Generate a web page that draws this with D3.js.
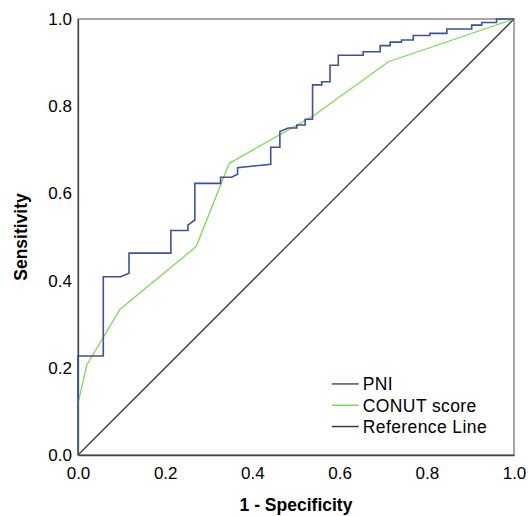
<!DOCTYPE html>
<html>
<head>
<meta charset="utf-8">
<script src="https://cdn.jsdelivr.net/npm/d3@7"></script>
<style>
  body { margin: 0; background: #fff; }
  text { font-family: "Liberation Sans", Arial, sans-serif; }
</style>
</head>
<body>
<div class="container"></div>
<script>
// ROC 曲线数据 (1 - Specificity, Sensitivity)
var pniFpr = [0, 0, 0.058, 0.058, 0.098, 0.117, 0.117, 0.213, 0.213, 0.252, 0.252, 0.268, 0.268, 0.327, 0.327, 0.352, 0.366, 0.366, 0.442, 0.442, 0.463, 0.463, 0.482, 0.502, 0.502, 0.521, 0.521, 0.538, 0.538, 0.559, 0.559, 0.578, 0.578, 0.597, 0.597, 0.654, 0.654, 0.693, 0.693, 0.716, 0.716, 0.742, 0.742, 0.769, 0.769, 0.807, 0.807, 0.846, 0.846, 0.903, 0.903, 0.926, 0.926, 0.960, 0.960, 1];
var pniTpr = [0, 0.227, 0.227, 0.409, 0.409, 0.417, 0.463, 0.463, 0.515, 0.515, 0.527, 0.539, 0.623, 0.623, 0.637, 0.637, 0.644, 0.659, 0.667, 0.706, 0.706, 0.742, 0.750, 0.750, 0.757, 0.757, 0.770, 0.770, 0.849, 0.849, 0.856, 0.856, 0.894, 0.894, 0.917, 0.917, 0.925, 0.925, 0.939, 0.939, 0.947, 0.947, 0.952, 0.952, 0.962, 0.962, 0.967, 0.967, 0.977, 0.977, 0.986, 0.986, 0.992, 0.992, 1, 1];

var conutFpr = [0, 0, 0.020, 0.096, 0.271, 0.347, 0.540, 0.712, 1];
var conutTpr = [0, 0.118, 0.206, 0.334, 0.478, 0.669, 0.778, 0.902, 1];

var refFpr = [0, 1];
var refTpr = [0, 1];

var ticks = [0, 0.2, 0.4, 0.6, 0.8, 1.0];
var seriesNames = ["PNI", "CONUT score", "Reference Line"];
var seriesColors = ["#3f519c", "#80d95a", "#3a3a3a"];

// 画布
var W = 528, H = 516;
var margin = {top: 19, right: 14, bottom: 61, left: 78};
var width = W - margin.left - margin.right;
var height = H - margin.top - margin.bottom;

var svg = d3.select(".container").append("svg")
  .attr("width", W).attr("height", H);
var vis = svg.append("g")
  .attr("transform", "translate(" + margin.left + "," + margin.top + ")");

var x = d3.scaleLinear().domain([0, 1]).range([0, width]);
var y = d3.scaleLinear().domain([0, 1]).range([height, 0]);

// 边框
vis.append("rect")
  .attr("width", width).attr("height", height)
  .attr("fill", "none").attr("stroke", "#8a8a8a").attr("stroke-width", 1.5);

// 坐标轴
var xAxis = vis.append("g")
  .attr("transform", "translate(0," + height + ")")
  .call(d3.axisBottom(x).tickValues(ticks).tickSize(0).tickPadding(9).tickFormat(d3.format(".1f")));
var yAxis = vis.append("g")
  .call(d3.axisLeft(y).tickValues(ticks).tickSize(0).tickPadding(6).tickFormat(d3.format(".1f")));
[xAxis, yAxis].forEach(function(a) {
  a.select(".domain").attr("stroke", "#444").attr("stroke-width", 1.3);
  a.selectAll("text").style("font-size", "17px").attr("fill", "#000");
});
xAxis.selectAll("text").attr("dy", "0.9em");

// 轴标题
svg.append("text")
  .attr("x", margin.left + width / 2).attr("y", 511)
  .attr("text-anchor", "middle")
  .style("font-size", "17.5px").style("font-weight", "bold")
  .text("1 - Specificity");
svg.append("text")
  .attr("transform", "translate(27," + (margin.top + height / 2) + ") rotate(-90)")
  .attr("text-anchor", "middle")
  .style("font-size", "17.5px").style("font-weight", "bold")
  .text("Sensitivity");

// 线条
var line = d3.line().x(function(d) { return x(d[0]); }).y(function(d) { return y(d[1]); });
var series = [
  d3.zip(refFpr, refTpr),
  d3.zip(conutFpr, conutTpr),
  d3.zip(pniFpr, pniTpr)
];
var colorsOrder = [seriesColors[2], seriesColors[1], seriesColors[0]];
vis.selectAll(".roc")
  .data(series)
  .enter().append("path")
  .attr("class", "roc")
  .attr("d", line)
  .attr("fill", "none")
  .attr("stroke", function(d, i) { return colorsOrder[i]; })
  .attr("stroke-width", function(d, i) { return i === 2 ? 1.6 : 1.3; })
  .attr("stroke-linejoin", "miter");

// 图例
var legend = vis.append("g")
  .attr("transform", "translate(" + (x(0.582)) + "," + (y(0.163)) + ")");
var item = legend.selectAll(".legend-item")
  .data(seriesNames)
  .enter().append("g")
  .attr("class", "legend-item")
  .attr("transform", function(d, i) { return "translate(0," + i * 21.3 + ")"; });
item.append("line")
  .attr("x1", 0).attr("x2", 27)
  .attr("stroke", function(d, i) { return seriesColors[i]; })
  .attr("stroke-width", 1.5);
item.append("text")
  .attr("x", 31).attr("dy", "0.36em")
  .style("font-size", "17.5px").style("letter-spacing", "0.4px")
  .text(function(d) { return d; });
</script>
</body>
</html>
